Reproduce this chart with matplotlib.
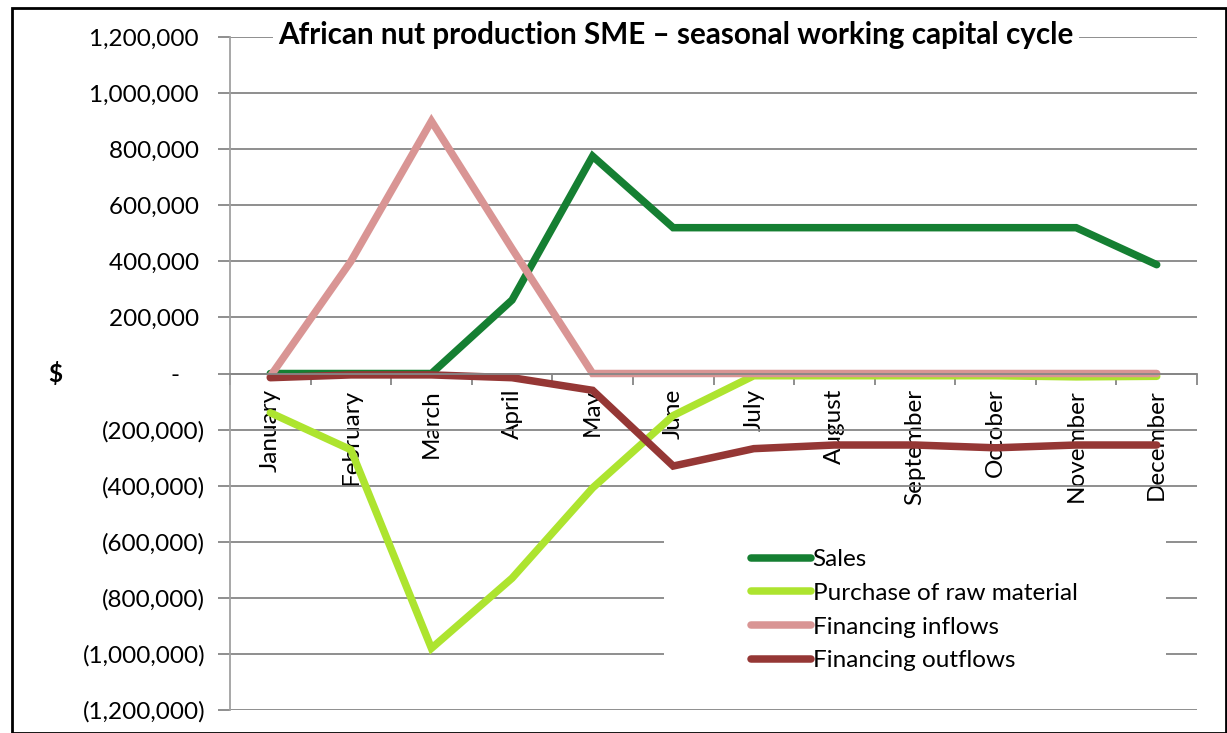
import numpy as np
import matplotlib
matplotlib.use('Agg')
from matplotlib import pyplot as plt
from matplotlib.ticker import FuncFormatter, MultipleLocator, FixedLocator
from matplotlib.patches import Rectangle

plt.rcParams['font.family'] = ['Lato', 'DejaVu Sans']

months = ['January', 'February', 'March', 'April', 'May', 'June', 'July',
          'August', 'September', 'October', 'November', 'December']

sales = [0, 0, 0, 262000, 775000, 520000, 520000, 520000, 520000, 520000, 520000, 388000]
purchase = [-140000, -272000, -980000, -730000, -408000, -150000, -8000, -8000, -8000, -8000, -12000, -10000]
fin_in = [-10000, 400000, 900000, 445000, 0, 0, 0, 0, 0, 0, 0, 0]
fin_out = [-15000, -5000, -5000, -15000, -60000, -330000, -268000, -255000, -255000, -265000, -255000, -255000]

series = [('Sales', sales, '#157f32'),
          ('Purchase of raw material', purchase, '#ade42f'),
          ('Financing inflows', fin_in, '#d99594'),
          ('Financing outflows', fin_out, '#953735')]

fs = 17.5

fig = plt.figure(figsize=(12.27, 7.33), dpi=100)
ax = fig.add_axes([230/1227, 1-710/733, (1197-230)/1227, (710-37)/733])

x = np.arange(len(months))
for name, vals, col in series:
    ax.plot(x, vals, color=col, lw=5.4, label=name, solid_capstyle='round',
            solid_joinstyle='miter')

ax.set_xlim(-0.5, 11.5)
ax.set_ylim(-1200000, 1200000)
ax.yaxis.set_major_locator(MultipleLocator(200000))

def acct(v, pos):
    v = int(round(v))
    if v == 0:
        return '-    '
    if v < 0:
        return '({:,})'.format(-v)
    return '{:,} '.format(v)

ax.yaxis.set_major_formatter(FuncFormatter(acct))
ax.grid(axis='y', color='#868686', lw=1.3)
ax.set_axisbelow(True)
ax.tick_params(axis='y', length=9, width=1.3, color='#868686', pad=9,
               labelsize=fs)

for s in ['top', 'right']:
    ax.spines[s].set_visible(False)
ax.spines['left'].set_color('#a0a0a0')
ax.spines['left'].set_linewidth(1.3)
ax.spines['bottom'].set_position(('data', 0))
ax.spines['bottom'].set_color('#868686')
ax.spines['bottom'].set_linewidth(1.3)

ax.set_xticks(x)
ax.set_xticklabels(months, rotation=90, va='top', ha='center')
ax.xaxis.set_minor_locator(FixedLocator(np.arange(-0.5, 12, 1)))
ax.tick_params(axis='x', which='major', length=0, pad=11, labelsize=fs)
ax.tick_params(axis='x', which='minor', length=8, width=1.3, color='#868686')

ax.set_ylabel('$', rotation=0, fontsize=fs, fontweight='bold', va='center')
ax.yaxis.set_label_coords((55-230)/967, 0.5)

fig.text(676/1227, 1-35/733,
         'African nut production SME \u2013 seasonal working capital cycle',
         ha='center', va='center', fontsize=21.3, fontweight='bold',
         bbox=dict(facecolor='white', edgecolor='none', pad=4))

# white legend area covering the gridlines
ax.add_patch(Rectangle(((664-230)/967, (710-695)/673), (1166-664)/967, (695-520)/673,
                       transform=ax.transAxes, facecolor='white',
                       edgecolor='none', zorder=1))

leg = ax.legend(loc='lower left', bbox_to_anchor=((741-230)/967, (710-681)/673),
                frameon=False, fontsize=fs, handlelength=2.5,
                handletextpad=0.05, labelspacing=0.52, borderaxespad=0)

fig.patches.append(Rectangle((12/1227, 0), (1226-12)/1227, 1-8/733,
                             transform=fig.transFigure, fill=False,
                             edgecolor='black', lw=2))

fig.savefig('out.png', dpi=100)
